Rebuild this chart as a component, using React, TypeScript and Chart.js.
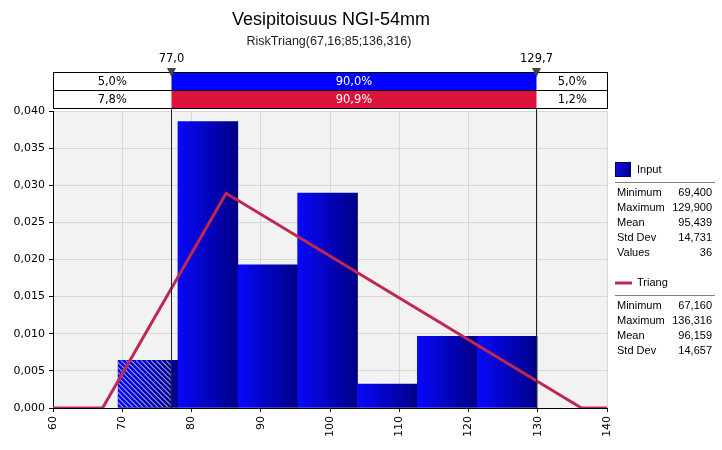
import React, { useEffect, useRef } from 'react';
import { Chart, registerables } from 'chart.js';

Chart.register(...registerables);

// ---- data ----
const binEdges = [69.4, 78.043, 86.686, 95.329, 103.971, 112.614, 121.257, 129.9];
const densities = [0.00643, 0.03857, 0.01929, 0.02893, 0.00321, 0.00964, 0.00964];
const triangX = [60, 67.16, 85, 136.316, 140];
const triangY = [0, 0, 0.02892, 0, 0];
const markerValues = [77.0, 129.7];
const markerLabels = ['77,0', '129,7'];
const inputBand = ['5,0%', '90,0%', '5,0%'];
const triangBand = ['7,8%', '90,9%', '1,2%'];
const inputStatLabels = ['Minimum', 'Maximum', 'Mean', 'Std Dev', 'Values'];
const inputStatValues = ['69,400', '129,900', '95,439', '14,731', '36'];
const triangStatLabels = ['Minimum', 'Maximum', 'Mean', 'Std Dev'];
const triangStatValues = ['67,160', '136,316', '96,159', '14,657'];
const titleText = 'Vesipitoisuus NGI-54mm';
const subtitleText = 'RiskTriang(67,16;85;136,316)';

const BLUE = '#0000ff';
const RED = '#dc143c';
const LINE = '#c0284f';

const decoPlugin = {
  id: 'deco',
  beforeDraw(chart: any) {
    const { ctx, chartArea } = chart;
    ctx.save();
    ctx.fillStyle = '#ffffff';
    ctx.fillRect(0, 0, chart.width, chart.height);
    ctx.fillStyle = '#f2f2f2';
    ctx.fillRect(chartArea.left, chartArea.top, chartArea.right - chartArea.left, chartArea.bottom - chartArea.top);
    ctx.restore();
  },
  afterDatasetDraw(chart: any, args: any) {
    if (args.index !== 0) return;
    const { ctx } = chart;
    const xs = chart.scales.x;
    const el = args.meta.data[0];
    if (!el) return;
    const left = xs.getPixelForValue(binEdges[0]);
    const cut = xs.getPixelForValue(markerValues[0]);
    const top = el.y;
    const bottom = el.base;
    ctx.save();
    ctx.beginPath();
    ctx.rect(left, top, cut - left, bottom - top);
    ctx.clip();
    ctx.strokeStyle = 'rgba(255,255,255,0.9)';
    ctx.lineWidth = 1;
    const h = bottom - top;
    for (let k = -h; k < cut - left + 5; k += 5) {
      ctx.beginPath();
      ctx.moveTo(left + k, top);
      ctx.lineTo(left + k + h, bottom);
      ctx.stroke();
    }
    ctx.restore();
  },
  afterDatasetsDraw(chart: any) {
    const { ctx, chartArea } = chart;
    const xs = chart.scales.x;
    ctx.save();
    ctx.strokeStyle = '#222222';
    ctx.lineWidth = 1;
    markerValues.forEach((v) => {
      const px = Math.round(xs.getPixelForValue(v)) + 0.5;
      ctx.beginPath();
      ctx.moveTo(px, 72);
      ctx.lineTo(px, chartArea.bottom);
      ctx.stroke();
    });
    ctx.restore();
  },
  afterDraw(chart: any) {
    const { ctx, chartArea } = chart;
    const xs = chart.scales.x;
    const L = chartArea.left;
    const R = chartArea.right + 1;
    const m1 = Math.round(xs.getPixelForValue(markerValues[0])) + 0.5;
    const m2 = Math.round(xs.getPixelForValue(markerValues[1])) + 0.5;
    ctx.save();
    // title
    ctx.fillStyle = '#000';
    ctx.textAlign = 'center';
    ctx.textBaseline = 'middle';
    ctx.font = '18px "Liberation Sans"';
    ctx.fillText(titleText, 331, 20);
    ctx.font = '12.5px "Liberation Sans"';
    ctx.fillStyle = '#222';
    ctx.fillText(subtitleText, 329, 42);

    // band rows
    const rows = [
      { y: 72, color: BLUE, labels: inputBand },
      { y: 90, color: RED, labels: triangBand },
    ];
    ctx.font = '11.5px "DejaVu Sans"';
    rows.forEach((r) => {
      const h = 18;
      ctx.fillStyle = '#fff';
      ctx.fillRect(L, r.y, R - L, h);
      ctx.fillStyle = r.color;
      ctx.fillRect(m1, r.y, m2 - m1, h);
      ctx.strokeStyle = '#000';
      ctx.lineWidth = 1;
      ctx.strokeRect(Math.round(L) + 0.5, r.y + 0.5, Math.round(R - L) - 1, h);
      const cy = r.y + h / 2 + 1;
      ctx.fillStyle = '#000';
      ctx.fillText(r.labels[0], (L + m1) / 2, cy);
      ctx.fillStyle = '#fff';
      ctx.fillText(r.labels[1], (m1 + m2) / 2, cy);
      ctx.fillStyle = '#000';
      ctx.fillText(r.labels[2], (m2 + R) / 2, cy);
    });

    // markers
    [m1, m2].forEach((px, i) => {
      ctx.fillStyle = '#444';
      ctx.beginPath();
      ctx.moveTo(px - 4.5, 68);
      ctx.lineTo(px + 4.5, 68);
      ctx.lineTo(px, 77);
      ctx.closePath();
      ctx.fill();
      ctx.fillStyle = '#000';
      ctx.fillText(markerLabels[i], px, 59);
    });

    // legend
    ctx.font = '11px "Liberation Sans"';
    ctx.textBaseline = 'middle';
    const g = ctx.createLinearGradient(615, 0, 631, 0);
    g.addColorStop(0, '#1010e0');
    g.addColorStop(1, '#000090');
    ctx.fillStyle = g;
    ctx.fillRect(615, 162, 16, 15);
    ctx.strokeStyle = '#000060';
    ctx.strokeRect(615.5, 162.5, 15, 14);
    ctx.fillStyle = '#000';
    ctx.textAlign = 'left';
    ctx.fillText('Input', 637, 169.5);
    ctx.strokeStyle = '#808080';
    ctx.beginPath();
    ctx.moveTo(615, 182.5);
    ctx.lineTo(715, 182.5);
    ctx.stroke();
    inputStatLabels.forEach((lab, i) => {
      const y = 192.5 + i * 15;
      ctx.textAlign = 'left';
      ctx.fillText(lab, 617, y);
      ctx.textAlign = 'right';
      ctx.fillText(inputStatValues[i], 712, y);
    });
    ctx.strokeStyle = LINE;
    ctx.lineWidth = 3;
    ctx.beginPath();
    ctx.moveTo(615, 283);
    ctx.lineTo(632, 283);
    ctx.stroke();
    ctx.lineWidth = 1;
    ctx.textAlign = 'left';
    ctx.fillText('Triang', 637, 283);
    ctx.strokeStyle = '#808080';
    ctx.beginPath();
    ctx.moveTo(615, 295.5);
    ctx.lineTo(715, 295.5);
    ctx.stroke();
    triangStatLabels.forEach((lab, i) => {
      const y = 305.5 + i * 15;
      ctx.textAlign = 'left';
      ctx.fillText(lab, 617, y);
      ctx.textAlign = 'right';
      ctx.fillText(triangStatValues[i], 712, y);
    });
    ctx.restore();
  },
};

export default function App() {
  const ref = useRef<HTMLCanvasElement | null>(null);
  useEffect(() => {
    if (!ref.current) return;
    const centers = densities.map((_, i) => (binEdges[i] + binEdges[i + 1]) / 2);
    const chart = new Chart(ref.current, {
      type: 'bar',
      data: {
        datasets: [
          {
            type: 'bar',
            label: 'Input',
            data: densities.map((d, i) => ({ x: centers[i], y: d })),
            barPercentage: 1,
            categoryPercentage: 1,
            borderWidth: 0,
            order: 1,
            backgroundColor: (c: any) => {
              const ch = c.chart;
              const xs = ch.scales && ch.scales.x;
              if (!xs || c.dataIndex === undefined) return '#0000c0';
              const l = xs.getPixelForValue(binEdges[c.dataIndex]);
              const r = xs.getPixelForValue(binEdges[c.dataIndex + 1]);
              if (!isFinite(l) || !isFinite(r) || r <= l) return '#0000c0';
              const gr = ch.ctx.createLinearGradient(l, 0, r, 0);
              gr.addColorStop(0, '#0808f8');
              gr.addColorStop(0.97, '#00008a');
              gr.addColorStop(1, '#000070');
              return gr;
            },
          } as any,
          {
            type: 'line',
            label: 'Triang',
            data: triangX.map((x, i) => ({ x, y: triangY[i] })),
            borderColor: LINE,
            borderWidth: 3,
            pointRadius: 0,
            tension: 0,
            fill: false,
            order: 0,
          } as any,
        ],
      },
      options: {
        animation: false,
        responsive: false,
        maintainAspectRatio: false,
        layout: { padding: { top: 111, right: 115, left: 0, bottom: 0 } },
        plugins: { legend: { display: false }, tooltip: { enabled: false }, title: { display: false } },
        scales: {
          x: {
            type: 'linear',
            min: 60,
            max: 140,
            offset: false,
            ticks: {
              stepSize: 10,
              autoSkip: false,
              minRotation: 90,
              maxRotation: 90,
              color: '#000',
              padding: 4,
              font: { family: 'DejaVu Sans', size: 11 },
              callback: (v: any) => String(v),
            },
            grid: { offset: false, color: '#d8d8d8', tickColor: '#000', tickLength: 4, drawTicks: true },
            border: { color: '#000', width: 1 },
            afterFit: (s: any) => {
              s.height = 42;
            },
          },
          y: {
            min: 0,
            max: 0.04,
            ticks: {
              stepSize: 0.005,
              color: '#000',
              padding: 4,
              font: { family: 'DejaVu Sans', size: 11 },
              callback: (v: any) => Number(v).toFixed(3).replace('.', ','),
            },
            grid: { color: '#d8d8d8', tickColor: '#000', tickLength: 4, drawTicks: true },
            border: { color: '#000', width: 1 },
            afterFit: (s: any) => {
              s.width = 53;
            },
          },
        },
      },
      plugins: [decoPlugin],
    });
    return () => chart.destroy();
  }, []);
  return (
    <div style={{ position: 'absolute', left: 0, top: 0, width: 722, height: 450, background: '#fff' }}>
      <canvas ref={ref} width={722} height={450} style={{ display: 'block', width: 722, height: 450 }} />
    </div>
  );
}
